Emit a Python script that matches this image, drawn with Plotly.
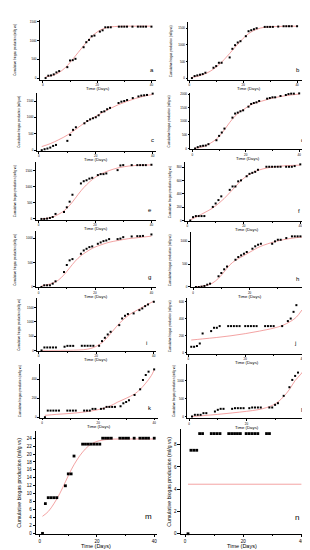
import plotly.graph_objects as go

# ---------------- data ----------------
a_days = [1,2,3,4,5,6,9,10,11,12,15,16,17,18,19,21,22,23,24,25,28,29,30,31,33,35,36,37,38,40]
a_vals = [0,62,70,97,150,185,290,467,476,511,820,953,1014,1111,1129,1235,1270,1350,1350,1350,1367,1367,1367,1367,1367,1367,1367,1367,1367,1367]
a_fit_days = [1,3,5,7,9,11,13,15,17,19,21,23,25,28,32,36,40]
a_fit_vals = [30,60,110,200,330,500,680,860,1030,1170,1270,1330,1360,1375,1380,1380,1380]

b_days = [1,2,3,4,5,6,9,10,11,12,15,16,17,18,19,21,22,23,24,25,28,29,30,31,33,35,36,37,38,40]
b_vals = [0,60,80,100,120,160,310,360,460,460,620,880,990,1070,1110,1260,1410,1440,1470,1500,1540,1540,1540,1540,1550,1560,1560,1560,1560,1560]
b_fit_days = [1,3,5,7,9,11,13,15,17,19,21,23,25,28,32,36,40]
b_fit_vals = [20,50,100,170,270,400,560,740,930,1110,1270,1390,1470,1530,1550,1560,1560]

c_days = [1,2,3,4,5,6,10,11,12,13,16,17,18,19,20,21,22,23,24,25,28,29,30,31,33,35,36,37,38,40]
c_vals = [0,30,50,80,130,160,285,465,620,700,820,890,940,975,1005,1065,1165,1185,1250,1290,1440,1480,1500,1530,1590,1640,1665,1675,1685,1725]
c_fit_days = [1,4,7,10,13,16,19,22,25,28,31,34,37,40]
c_fit_vals = [110,200,320,460,640,830,980,1130,1270,1390,1490,1580,1650,1700]

d_days = [1,2,3,4,5,6,9,10,11,12,15,16,17,18,19,21,22,23,24,25,28,29,30,31,33,35,36,37,38,40]
d_vals = [0,50,85,100,110,160,305,465,590,735,1140,1290,1325,1375,1410,1545,1645,1680,1705,1755,1840,1865,1890,1890,1940,1975,2010,2025,2025,2035]
d_fit_days = [1,3,5,7,9,11,13,15,17,19,21,23,26,30,35,40]
d_fit_vals = [15,40,100,210,350,560,830,1090,1290,1430,1560,1660,1750,1860,1950,2010]

e_days = [1,2,3,4,5,6,9,10,11,12,15,16,17,18,19,21,22,23,24,28,29,30,33,35,36,37,38,40]
e_vals = [0,0,10,30,60,155,215,360,535,750,1100,1170,1200,1250,1275,1360,1390,1390,1411,1514,1658,1669,1669,1669,1669,1669,1669,1680]
e_fit_days = [1,3,5,7,9,11,13,15,17,19,21,23,25,28,32,36,40]
e_fit_vals = [0,20,60,140,250,420,640,870,1060,1220,1340,1430,1500,1580,1640,1665,1675]

f_days = [1,2,3,4,5,6,9,10,11,12,15,16,17,18,19,21,22,23,24,25,28,29,30,31,32,33,35,36,37,38,40]
f_vals = [0,51,67,67,67,67,205,257,308,364,462,513,513,590,605,667,703,718,733,764,810,810,810,810,810,810,810,810,810,820,846]
f_fit_days = [1,3,5,7,9,11,13,15,17,19,21,23,25,28,32,36,40]
f_fit_vals = [10,50,95,140,190,255,330,420,510,600,670,720,755,790,815,828,835]

g_days = [1,2,3,4,5,6,9,10,11,12,15,16,17,18,19,21,22,23,24,25,28,29,30,33,35,36,37,40]
g_vals = [0,35,35,35,68,116,306,450,545,571,680,748,782,816,830,884,912,939,952,980,980,990,1020,1034,1040,1040,1045,1075]
g_fit_days = [1,3,5,7,9,11,13,15,17,19,21,23,25,28,32,36,40]
g_fit_vals = [20,45,80,140,250,390,530,640,720,790,840,880,915,950,990,1015,1040]

h_days = [1,2,3,4,5,6,9,10,11,12,15,16,17,18,19,21,22,23,24,28,29,30,31,33,35,36,37,38,40]
h_vals = [0,0,7,22,50,72,233,304,385,445,593,652,689,724,761,833,885,920,941,941,993,1028,1028,1065,1102,1102,1102,1102,1102]
h_fit_days = [1,3,5,7,9,11,13,15,17,19,21,23,25,28,32,36,40]
h_fit_vals = [0,15,40,90,190,330,480,580,650,720,790,860,910,970,1030,1070,1095]

i_days = [1,2,3,4,5,6,9,10,11,12,15,16,17,18,19,21,22,23,24,25,28,29,30,31,33,35,36,37,38,40]
i_vals = [0,105,105,105,105,105,130,160,160,160,163,163,163,163,163,163,326,442,558,651,884,1116,1210,1270,1292,1407,1465,1547,1605,1698]
i_fit_days = [1,5,10,14,17,19,21,23,25,27,29,31,33,35,37,40]
i_fit_vals = [0,0,5,15,45,100,200,360,590,830,1040,1210,1340,1450,1560,1720]

j_days = [1,2,3,4,5,8,9,10,11,14,15,16,17,18,20,21,22,23,24,27,28,29,30,33,35,36,37,38]
j_vals = [70,70,79,109,227,255,294,294,314,314,314,314,314,314,314,314,314,314,314,314,314,314,314,314,373,403,482,561]
j_fit_days = [1,5,10,15,20,25,30,33,36,38,40]
j_fit_vals = [150,163,180,200,225,255,290,320,370,420,505]

k_days = [1,2,3,4,5,6,9,10,11,12,15,16,17,18,19,21,22,23,24,25,26,28,29,30,31,33,35,36,37,38,40]
k_vals = [0,70,70,70,70,70,70,70,70,70,70,70,70,88,88,88,91,109,109,109,109,116,147,161,179,235,295,393,446,481,505]
k_fit_days = [1,5,10,15,20,24,27,30,33,35,37,39,40]
k_fit_vals = [20,30,40,55,80,115,160,200,245,295,360,440,500]

l_days = [1,2,3,4,5,6,9,10,11,12,15,16,17,18,19,21,22,23,24,25,28,29,30,31,33,35,36,37,38,40]
l_vals = [0,47,47,47,94,94,140,187,215,215,215,234,234,234,234,234,253,253,253,253,253,253,327,374,580,823,1028,1140,1234,1290]
l_fit_days = [1,5,10,15,20,24,27,29,31,33,35,37,39,40]
l_fit_vals = [0,25,60,100,145,190,250,310,410,560,760,1010,1190,1300]

m_days = [1,2,3,4,5,6,9,10,11,12,15,16,17,18,19,20,21,22,23,24,25,28,29,30,31,33,35,36,37,38,40]
m_vals = [0,7.5,9,9,9,9,12,15,15,19.5,22.5,22.5,22.5,22.5,22.5,22.5,22.5,24,24,24,24,24,24,24,24,24,24,24,24,24,24]
m_fit_days = [1,3,5,7,9,11,13,15,17,19,21,24,28,32,36,40]
m_fit_vals = [4.3,5.5,7.5,10,13,16,18.5,20.5,22,22.9,23.4,23.7,23.8,23.8,23.8,23.8]

n_days = [1,2,3,4,5,6,9,10,11,12,15,16,17,18,19,21,22,23,24,25,28,29]
n_vals = [0,7.5,7.5,7.5,9,9,9,9,9,9,9,9,9,9,9,9,9,9,9,9,9,9]
n_fit_days = [1,40]
n_fit_vals = [4.45,4.45]

x_tick_vals = [0, 20, 40]
y_title = "Cumulative biogas production (ml/g vs)"
x_title = "Time (Days)"

# ---------------- layout config (pixel boxes: left, right, top, bottom) ----------------
W, H = 310, 550
cfg = [
    ("a", a_days, a_vals, a_fit_days, a_fit_vals, (32,148,12,72),    [-1.1,41.5],  [-45,1545],  500, (0.966,0.167), 7),
    ("b", b_days, b_vals, b_fit_days, b_fit_vals, (181,303,14,72),   [-0.3,44.8],  [-51,1689],  500, (0.90,0.16), 163),
    ("c", c_days, c_vals, c_fit_days, c_fit_vals, (29,148,85,143.3), [-0.7,41.0],  [-18,1754],  500, (0.975,0.18), 11),
    ("d", d_days, d_vals, d_fit_days, d_fit_vals, (183,298,85,141.7),[-0.75,42.2], [-26,2061],  500, (0.974,0.16), 161),
    ("e", e_days, e_vals, e_fit_days, e_fit_vals, (27.7,148,155,212.7),[-1.06,41.45],[-31,1752], 500, (0.958,0.17), 7),
    ("f", f_days, f_vals, f_fit_days, f_fit_vals, (177.7,302,155,213.7),[-0.81,43.1],[-6,875],  200, (0.922,0.177), 162),
    ("g", g_days, g_vals, g_fit_days, g_fit_vals, (28.3,148,224,280.5),[-0.85,41.45],[-10,1142],500, (0.95,0.186), 7.5),
    ("h", h_days, h_vals, h_fit_days, h_fit_vals, (183.3,303,225,280.5),[-0.85,41.4],[-11,1193],500, (0.891,0.148), 162),
    ("i", i_days, i_vals, i_fit_days, i_fit_vals, (29.3,148,291,344),[-0.5,40.6],  [-10,1832],  500, (0.924,0.138), 11.5),
    ("j", j_days, j_vals, j_fit_days, j_fit_vals, (180,300,291,347), [-0.35,41.75],[-12,646],   200, (0.90,0.184), 162),
    ("k", k_days, k_vals, k_fit_days, k_fit_vals, (32.3,150,357.3,411),[-0.7,41.2],[-3,562],    200, (0.935,0.173), 11.5),
    ("l", l_days, l_vals, l_fit_days, l_fit_vals, (180,300,357.3,411.7),[-0.6,41.15],[-48,1475],500, (0.95,0.154), 166.5),
    ("m", m_days, m_vals, m_fit_days, m_fit_vals, (28,149,425,528),  [-1.3,40.8],  [-0.18,25.7],2,  (0.933,0.175), 11),
    ("n", n_days, n_vals, n_fit_days, n_fit_vals, (173.3,297,423,528),[-1.5,40.9], [-0.03,9.37],2,  (0.943,0.155), 161.5),
]

FONT = "Liberation Sans, Arial, sans-serif"
RED = "#f08c8c"

fig = go.Figure()
layout = dict(width=W, height=H, margin=dict(l=0, r=0, t=0, b=0),
              paper_bgcolor="white", plot_bgcolor="white", showlegend=False,
              font=dict(family=FONT, color="black"))
annotations = []

for idx, (key, days, vals, fd, fv, box, xr, yr, dy, letpos, ytx) in enumerate(cfg, start=1):
    big = key in ("m", "n")
    xs = "x" if idx == 1 else f"x{idx}"
    ys = "y" if idx == 1 else f"y{idx}"
    L, R, T, B = box
    fig.add_trace(go.Scatter(x=fd, y=fv, mode="lines", xaxis=xs, yaxis=ys,
                             line=dict(color=RED, width=0.8, shape="spline", smoothing=1.0),
                             hoverinfo="skip", cliponaxis=False))
    fig.add_trace(go.Scatter(x=days, y=vals, mode="markers", xaxis=xs, yaxis=ys,
                             marker=dict(symbol="square", size=2.8 if big else 2.0, color="black",
                                         line=dict(width=0)),
                             cliponaxis=False))
    tickfont = dict(size=4.5 if big else 3, family=FONT, color="black")
    ax_common = dict(showgrid=False, zeroline=False, showline=True, linecolor="black",
                     linewidth=0.6, ticks="outside", ticklen=2 if not big else 2.5,
                     tickwidth=0.5, tickcolor="black", tickfont=tickfont, fixedrange=True)
    xname = "xaxis" if idx == 1 else f"xaxis{idx}"
    yname = "yaxis" if idx == 1 else f"yaxis{idx}"
    layout[xname] = dict(domain=[L / W, R / W], range=xr, anchor=ys,
                         tickmode="array", tickvals=x_tick_vals,
                         minor=dict(dtick=10, tick0=0, ticks="outside", ticklen=1.2,
                                    tickwidth=0.4, tickcolor="black"),
                         ticklabelstandoff=0, **ax_common)
    layout[yname] = dict(domain=[1 - B / H, 1 - T / H], range=yr, anchor=xs,
                         tick0=0, dtick=dy, ticklabelstandoff=0, **ax_common)
    # panel letter
    annotations.append(dict(text=key, xref=f"{xs} domain", yref=f"{ys} domain",
                            x=letpos[0], y=letpos[1], showarrow=False,
                            font=dict(size=8 if big else 6, family=FONT, color="black"),
                            xanchor="center", yanchor="middle"))
    # y title
    annotations.append(dict(text=y_title, xref="paper", yref="paper",
                            x=ytx / W, y=1 - ((T + B) / 2) / H, textangle=-90,
                            showarrow=False, xanchor="center", yanchor="middle",
                            font=dict(size=5.2 if big else 3, family=FONT, color="black")))
    # x title
    xt_y = B + (12 if big else 9)
    annotations.append(dict(text=x_title, xref=f"{xs} domain", yref="paper",
                            x=0.5, y=1 - xt_y / H, showarrow=False,
                            xanchor="center", yanchor="middle",
                            font=dict(size=5.5 if big else 4.3, family=FONT, color="black")))

layout["annotations"] = annotations
fig.update_layout(**layout)
fig.write_html("out.html")
